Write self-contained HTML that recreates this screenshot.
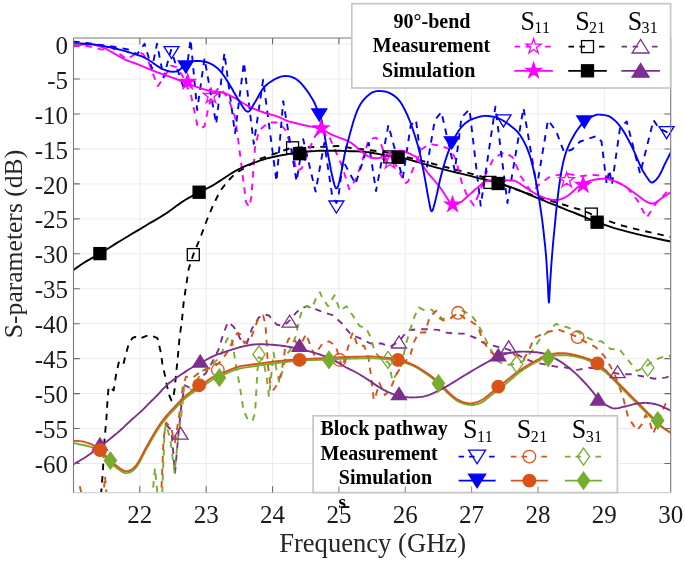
<!DOCTYPE html>
<html><head><meta charset="utf-8"><style>
html,body{margin:0;padding:0;background:#fff;}
svg{display:block;will-change:transform;}
.tl{font-family:"Liberation Serif",serif;font-size:25px;fill:#1a1a1a;}
.al{font-family:"Liberation Serif",serif;font-size:25px;fill:#262626;}
.lb{font-family:"Liberation Serif",serif;font-size:20px;font-weight:bold;fill:#000;}
.ls{font-family:"Liberation Serif",serif;font-size:28px;fill:#000;}
.lsub{font-family:"Liberation Serif",serif;font-size:16px;letter-spacing:0.4px;fill:#000;}
.bs{font-family:"Liberation Serif",serif;font-size:19px;font-weight:bold;fill:#000;}
</style></head><body>
<svg width="685" height="561" viewBox="0 0 685 561">
<defs><clipPath id="clip"><rect x="73.5" y="38.0" width="597.2" height="454.6"/></clipPath></defs>
<rect width="685" height="561" fill="#fff"/>
<path d="M139.85 38.0V492.6 M206.20 38.0V492.6 M272.55 38.0V492.6 M338.90 38.0V492.6 M405.25 38.0V492.6 M471.60 38.0V492.6 M537.95 38.0V492.6 M604.30 38.0V492.6 M73.5 44.10H670.7 M73.5 79.05H670.7 M73.5 114.00H670.7 M73.5 148.95H670.7 M73.5 183.90H670.7 M73.5 218.85H670.7 M73.5 253.80H670.7 M73.5 288.75H670.7 M73.5 323.70H670.7 M73.5 358.65H670.7 M73.5 393.60H670.7 M73.5 428.55H670.7 M73.5 463.50H670.7" stroke="#ebebeb" stroke-width="1" fill="none"/>
<g clip-path="url(#clip)">
<path d="M77.0 500.0 L80.0 487.0 L83.0 500.0" stroke="#d95319" stroke-width="1.9" fill="none" stroke-linejoin="round" stroke-dasharray="6.5,6"/>
<path d="M103.0 500.0 L105.0 476.0 L107.0 500.0" stroke="#d95319" stroke-width="1.9" fill="none" stroke-linejoin="round" stroke-dasharray="6.5,6"/>
<path d="M166.0 424.7 L171.4 430.0 L174.0 462.0 L175.0 472.9 L178.3 435.7 L181.6 402.8 L184.9 385.3 L189.3 387.5 L193.7 383.1 L205.6 373.4 L212.0 362.7 L218.4 349.9 L223.7 332.8 L228.0 322.1 L233.3 326.4 L237.6 332.8 L240.0 338.7 L246.9 343.5 L251.6 329.4 L258.6 317.8 L263.2 314.3 L269.0 315.5 L272.5 320.1 L277.1 324.8 L284.1 325.9 L289.9 320.1 L295.7 313.2 L300.3 308.6 L307.2 306.2 L314.2 308.6 L320.0 310.9 L333.4 315.5 L342.2 323.8 L351.0 334.7 L361.8 339.1 L370.5 343.5 L381.5 343.5 L390.2 346.8 L399.0 341.3 L407.7 330.4 L416.5 329.3 L427.4 329.3 L438.4 329.9 L445.0 332.5 L455.9 333.6 L464.7 333.6 L475.6 338.0 L484.4 343.5 L493.1 345.7 L503.0 347.9 L512.0 351.0 L523.0 357.9 L534.0 362.3 L544.9 364.4 L555.8 366.6 L566.8 367.7 L577.7 369.9 L588.7 367.7 L599.6 368.8 L610.6 372.1 L621.5 374.3 L632.5 374.3 L643.4 376.5 L654.4 378.7 L665.3 377.6 L673.0 375.4" stroke="#7e2f8e" stroke-width="1.9" fill="none" stroke-linejoin="round" stroke-dasharray="6.5,6"/>
<path d="M152.0 500.0 L155.0 468.0 L158.0 500.0 L162.0 500.0 L164.5 432.0 L166.0 424.0 L170.2 439.3 L174.6 472.6 L178.1 437.5 L182.0 409.7 L184.2 386.2 L192.7 390.5 L201.3 371.3 L209.8 367.0 L220.5 356.3 L226.1 341.3 L229.3 336.0 L232.3 341.4 L235.5 362.7 L240.0 387.4 L243.5 410.6 L248.1 420.0 L252.5 421.0 L255.1 412.9 L257.4 371.2 L258.6 357.2 L263.2 359.6 L266.7 378.1 L269.0 396.7 L273.6 352.6 L275.9 366.5 L279.4 382.8 L282.9 368.8 L286.4 354.9 L289.9 350.3 L295.7 336.4 L299.1 320.1 L302.6 308.6 L307.2 306.2 L311.9 308.6 L316.5 297.0 L320.0 292.3 L322.0 297.0 L328.0 306.3 L334.5 295.3 L340.0 310.7 L346.6 306.3 L355.3 319.4 L359.6 326.0 L366.1 328.2 L370.5 336.9 L374.9 352.3 L381.5 358.8 L389.1 363.2 L392.4 380.7 L396.0 375.0 L401.2 365.4 L405.6 345.7 L409.9 330.4 L414.3 317.2 L418.7 307.4 L425.3 310.7 L431.8 309.6 L440.6 319.4 L451.5 317.2 L462.5 310.7 L471.2 315.0 L477.8 323.8 L484.4 336.9 L491.0 350.1 L497.5 361.0 L505.0 365.0 L516.7 364.1 L523.0 361.2 L531.8 351.3 L540.5 338.2 L549.3 330.5 L555.8 323.9 L566.8 327.2 L575.6 330.5 L584.3 336.0 L593.1 340.4 L601.8 341.5 L610.6 349.1 L619.3 349.1 L628.1 360.1 L636.9 371.0 L645.6 366.6 L654.4 360.1 L663.1 356.8 L673.0 355.7" stroke="#77ac30" stroke-width="1.9" fill="none" stroke-linejoin="round" stroke-dasharray="6.5,6"/>
<path d="M161.0 500.0 L163.5 440.0 L165.9 422.6 L171.1 427.0 L173.7 439.3 L175.0 442.3 L179.4 413.8 L182.7 387.5 L186.0 376.6 L192.7 377.7 L200.0 372.0 L210.0 368.0 L214.1 367.0 L220.0 362.0 L229.1 349.9 L233.3 339.2 L237.6 332.8 L240.0 334.1 L244.6 343.3 L251.6 336.4 L258.6 317.8 L263.2 315.5 L265.5 324.8 L266.7 343.3 L267.8 364.2 L270.1 382.8 L273.6 389.7 L278.3 382.8 L281.7 371.2 L285.2 348.0 L288.7 338.7 L293.3 337.5 L298.0 345.7 L302.0 342.0 L306.1 334.1 L309.6 343.3 L314.2 354.9 L318.0 350.0 L322.5 343.5 L329.0 341.3 L335.6 345.7 L342.2 367.6 L346.6 352.3 L351.0 336.9 L353.0 332.5 L357.5 345.7 L364.0 345.7 L368.3 356.6 L370.5 372.0 L373.8 400.0 L376.0 395.0 L379.3 382.9 L385.0 395.0 L390.2 389.5 L396.0 375.0 L403.4 363.2 L409.9 356.6 L414.3 341.3 L418.7 332.5 L425.3 332.5 L429.6 317.2 L436.2 310.7 L442.8 320.5 L449.3 319.4 L458.1 312.8 L464.7 318.3 L471.2 321.6 L477.8 326.0 L482.2 339.1 L488.8 350.1 L495.3 355.5 L503.0 354.4 L510.0 352.0 L523.0 360.1 L529.6 349.1 L534.0 338.2 L540.5 334.9 L549.3 331.6 L558.0 329.4 L566.8 332.7 L577.7 337.1 L586.5 342.6 L595.3 346.9 L604.0 355.7 L610.6 366.6 L615.0 375.4 L619.3 386.3 L623.7 399.7 L628.1 417.2 L636.9 430.4 L642.3 423.8 L645.6 415.0 L649.0 420.0 L653.3 433.6 L658.8 419.4 L665.3 404.1 L673.0 399.7" stroke="#d95319" stroke-width="1.9" fill="none" stroke-linejoin="round" stroke-dasharray="6.5,6"/>
<path d="M101.0 495.0 L102.8 472.6 L104.5 440.0 L106.3 420.0 L107.8 396.0 L108.7 386.7 L113.7 390.4 L116.0 375.0 L119.0 361.5 L121.5 362.5 L123.4 364.3 L125.2 356.8 L128.6 344.3 L132.4 338.1 L135.0 336.9 L138.7 339.0 L147.4 335.7 L150.0 335.0 L157.5 338.2 L160.7 352.1 L162.4 363.7 L165.0 375.6 L167.5 388.0 L169.5 396.0 L171.5 400.5 L173.2 398.0 L174.5 390.0 L176.3 372.0 L178.0 355.0 L179.5 338.0 L182.0 320.0 L183.6 302.8 L188.6 269.3 L193.3 254.6 L200.3 237.7 L207.3 219.0 L213.2 205.0 L220.2 191.0 L227.2 181.7 L235.3 173.5 L261.0 158.4 L275.0 153.7 L291.4 147.8 L310.1 147.1 L326.4 146.7 L338.1 146.0 L349.8 147.8 L363.8 149.5 L382.5 151.8 L393.0 153.7 L416.4 159.5 L439.7 165.5 L463.1 171.5 L486.4 178.0 L513.0 188.4 L536.4 196.5 L559.7 203.5 L583.1 210.5 L591.3 214.1 L618.1 224.6 L641.5 230.4 L673.0 237.4" stroke="#000000" stroke-width="1.9" fill="none" stroke-linejoin="round" stroke-dasharray="6.5,6"/>
<path d="M73.0 46.0 L87.6 46.0 L102.2 49.7 L111.0 46.8 L119.7 54.1 L127.0 59.2 L132.9 55.5 L138.7 51.9 L143.1 54.1 L148.9 62.8 L153.3 74.5 L157.7 86.2 L165.0 76.0 L170.9 65.7 L176.7 67.2 L182.6 76.0 L191.3 96.4 L195.0 113.9 L197.5 126.0 L200.5 128.5 L204.5 126.3 L208.1 108.8 L211.8 96.4 L217.6 89.1 L220.3 87.8 L228.4 98.5 L235.0 117.2 L239.1 146.6 L243.1 178.7 L246.0 202.0 L249.2 206.9 L251.4 196.7 L255.1 146.6 L259.1 130.6 L268.5 122.5 L279.2 122.5 L285.9 130.6 L293.0 153.8 L296.6 171.3 L301.8 168.4 L307.6 153.8 L313.4 139.2 L320.0 128.0 L329.6 137.6 L336.7 153.7 L342.1 166.1 L349.2 189.3 L356.3 178.6 L361.7 162.6 L368.8 139.4 L376.0 137.6 L381.3 144.7 L386.6 160.8 L393.8 160.8 L399.1 171.5 L405.0 183.5 L408.0 181.6 L413.4 168.2 L421.4 149.5 L429.4 144.1 L440.1 145.5 L450.8 149.5 L456.1 160.2 L461.5 181.6 L466.8 195.0 L472.2 203.0 L474.0 205.6 L480.7 189.6 L486.0 173.6 L494.1 157.5 L504.8 152.2 L512.8 157.5 L520.8 176.2 L531.5 192.3 L539.5 184.3 L550.7 176.2 L566.7 173.6 L580.1 176.2 L593.5 174.9 L606.8 176.2 L613.4 180.2 L626.7 186.9 L637.4 200.3 L646.8 217.7 L656.1 203.0 L664.2 195.0 L670.9 186.9" stroke="#ff00ff" stroke-width="1.9" fill="none" stroke-linejoin="round" stroke-dasharray="6.5,6"/>
<path d="M73.0 41.8 L79.1 41.9 L88.3 43.3 L102.6 45.3 L113.9 46.8 L128.2 49.5 L134.3 52.8 L137.2 54.1 L144.6 43.8 L151.9 68.7 L157.0 43.8 L163.6 77.4 L171.0 50.0 L184.0 89.1 L190.6 39.5 L197.2 110.0 L204.5 58.4 L216.2 124.0 L224.4 53.0 L235.0 133.2 L243.9 62.4 L253.8 143.9 L263.1 79.8 L276.5 181.4 L283.2 101.1 L296.6 181.4 L303.2 139.2 L315.6 191.6 L324.3 143.0 L332.3 196.4 L336.4 203.0 L338.5 196.4 L343.0 160.8 L355.5 184.0 L368.8 143.0 L376.0 191.1 L388.4 125.1 L402.7 178.6 L410.7 125.4 L416.0 120.1 L421.4 162.9 L426.7 168.2 L434.8 120.1 L441.4 112.1 L454.8 170.9 L461.5 117.4 L469.5 109.4 L480.7 205.6 L495.4 106.7 L507.4 203.0 L523.5 108.0 L536.8 186.9 L548.0 120.1 L556.0 130.8 L564.1 152.2 L572.1 149.5 L580.1 141.5 L596.1 136.1 L601.5 141.5 L606.7 184.3 L609.3 170.0 L612.0 184.3 L620.0 128.1 L626.7 121.4 L640.1 173.6 L653.5 120.1 L658.8 128.1 L666.8 132.1 L670.9 125.4" stroke="#0000ff" stroke-width="1.9" fill="none" stroke-linejoin="round" stroke-dasharray="6.5,6"/>
<path d="M73.0 442.9 L75.5 443.4 L79.1 444.2 L83.3 445.0 L87.6 446.0 L91.6 447.2 L94.9 448.4 L97.4 449.8 L99.3 451.3 L101.0 453.0 L102.6 454.8 L104.1 456.5 L105.8 458.2 L107.6 459.9 L109.5 461.7 L111.4 463.4 L113.2 465.2 L115.0 466.7 L116.8 468.1 L118.5 469.3 L120.2 470.5 L121.8 471.6 L123.4 472.4 L125.0 473.0 L126.6 473.1 L128.2 472.9 L129.9 472.4 L131.5 471.6 L133.1 470.5 L134.8 468.9 L136.5 467.0 L138.2 464.5 L140.0 461.5 L141.7 458.1 L143.6 454.5 L145.4 450.9 L147.4 447.3 L149.5 443.7 L151.6 439.9 L153.9 436.1 L156.1 432.3 L158.4 428.7 L160.6 425.4 L162.8 422.4 L165.0 419.7 L167.2 417.1 L169.3 414.7 L171.5 412.4 L173.7 410.0 L175.9 407.6 L178.1 405.3 L180.3 403.0 L182.5 400.9 L184.7 398.8 L186.9 396.9 L189.1 395.2 L191.3 393.6 L193.5 392.2 L195.6 390.9 L197.8 389.5 L200.0 388.1 L202.2 386.6 L204.3 385.1 L206.5 383.6 L208.7 382.2 L210.8 380.8 L213.0 379.5 L215.2 378.3 L217.4 377.3 L219.5 376.3 L221.7 375.3 L223.9 374.4 L226.1 373.5 L228.2 372.6 L230.3 371.7 L232.4 370.9 L234.6 370.1 L236.8 369.4 L239.3 368.7 L241.9 368.1 L244.7 367.6 L247.5 367.1 L250.5 366.7 L253.6 366.3 L256.8 365.8 L260.2 365.3 L263.8 364.8 L267.5 364.3 L271.2 363.7 L275.0 363.3 L278.7 362.8 L282.3 362.4 L286.0 362.0 L289.6 361.6 L293.3 361.2 L296.9 360.9 L300.6 360.6 L304.2 360.4 L307.9 360.2 L311.6 360.1 L315.2 360.0 L318.9 359.8 L322.5 359.7 L326.2 359.5 L329.9 359.4 L333.7 359.2 L337.3 359.1 L340.9 358.9 L344.4 358.8 L347.8 358.7 L351.1 358.6 L354.3 358.5 L357.4 358.5 L360.3 358.4 L363.0 358.4 L365.3 358.4 L367.1 358.3 L368.7 358.2 L370.4 358.2 L372.4 358.3 L374.9 358.4 L378.0 358.6 L381.6 358.8 L385.5 359.1 L389.5 359.5 L393.3 360.0 L396.8 360.6 L400.0 361.3 L403.0 362.1 L405.9 363.1 L408.8 364.1 L411.5 365.2 L414.3 366.5 L417.1 368.0 L419.9 369.6 L422.6 371.4 L425.3 373.2 L427.8 375.0 L430.0 376.6 L432.0 378.1 L433.6 379.5 L435.2 380.8 L436.6 382.2 L438.1 383.6 L439.6 385.0 L441.2 386.6 L442.8 388.2 L444.5 389.9 L446.1 391.5 L447.7 393.1 L449.3 394.6 L450.9 396.0 L452.4 397.3 L454.0 398.6 L455.5 399.8 L457.2 400.9 L458.9 401.8 L460.8 402.6 L462.8 403.4 L464.9 404.0 L467.0 404.5 L469.1 404.8 L471.0 405.0 L472.8 405.0 L474.6 404.8 L476.4 404.4 L478.1 404.0 L479.7 403.3 L481.4 402.6 L483.0 401.7 L484.7 400.6 L486.2 399.3 L487.8 398.0 L489.4 396.7 L491.0 395.4 L492.6 394.2 L494.2 393.0 L495.8 391.9 L497.5 390.7 L499.1 389.5 L500.7 388.2 L502.3 386.9 L503.9 385.6 L505.5 384.2 L507.1 382.8 L508.7 381.5 L510.3 380.1 L511.9 378.7 L513.5 377.4 L515.1 376.0 L516.7 374.6 L518.3 373.3 L519.9 372.1 L521.5 370.9 L523.1 369.8 L524.7 368.8 L526.3 367.7 L527.9 366.7 L529.6 365.7 L531.4 364.7 L533.2 363.7 L535.1 362.7 L536.9 361.8 L538.6 360.9 L540.0 360.1 L540.9 359.4 L541.4 358.8 L541.7 358.2 L542.2 357.7 L543.2 357.2 L544.9 356.8 L547.6 356.4 L550.9 355.9 L554.8 355.5 L558.9 355.2 L563.0 355.1 L566.8 355.3 L570.5 355.7 L574.3 356.3 L578.0 357.0 L581.7 358.0 L585.3 359.1 L588.7 360.5 L591.9 362.1 L594.9 363.9 L597.7 365.9 L600.5 368.1 L603.3 370.4 L606.2 372.8 L609.1 375.4 L612.0 378.2 L615.0 381.2 L617.9 384.3 L620.8 387.3 L623.7 390.3 L626.7 393.3 L629.9 396.5 L633.0 399.6 L636.0 402.6 L638.8 405.4 L641.2 407.8 L643.1 409.7 L644.7 411.3 L646.0 412.6 L647.2 413.8 L648.5 415.1 L650.0 416.5 L651.7 418.1 L653.5 419.8 L655.3 421.6 L657.2 423.3 L659.1 425.0 L661.0 426.5 L663.1 427.9 L665.4 429.3 L667.7 430.7 L669.9 431.9 L671.7 432.9 L673.0 433.6" stroke="#77ac30" stroke-width="1.9" fill="none" stroke-linejoin="round"/>
<path d="M73.0 440.7 L74.2 440.8 L75.9 440.9 L77.8 441.0 L79.9 441.1 L82.0 441.4 L84.0 441.8 L85.8 442.3 L87.6 442.8 L89.5 443.5 L91.3 444.2 L93.1 445.1 L94.9 446.2 L96.7 447.5 L98.5 449.1 L100.3 450.8 L102.2 452.5 L104.0 454.3 L105.8 456.0 L107.6 457.7 L109.5 459.5 L111.4 461.2 L113.2 462.9 L115.0 464.5 L116.8 465.9 L118.5 467.2 L120.2 468.5 L121.8 469.6 L123.4 470.5 L125.0 471.1 L126.6 471.3 L128.2 471.1 L129.9 470.5 L131.5 469.6 L133.1 468.4 L134.8 466.8 L136.5 464.8 L138.2 462.3 L140.0 459.3 L141.7 455.9 L143.6 452.3 L145.4 448.7 L147.4 445.1 L149.5 441.5 L151.6 437.7 L153.9 433.9 L156.1 430.1 L158.4 426.5 L160.6 423.2 L162.8 420.2 L165.0 417.5 L167.2 415.0 L169.3 412.5 L171.5 410.2 L173.7 407.8 L175.9 405.4 L178.1 403.1 L180.3 400.8 L182.5 398.7 L184.7 396.6 L186.9 394.7 L189.1 393.0 L191.3 391.5 L193.5 390.1 L195.6 388.8 L197.8 387.4 L200.0 386.0 L202.2 384.5 L204.3 382.9 L206.5 381.3 L208.7 379.8 L210.8 378.3 L213.0 377.0 L215.2 375.9 L217.4 374.9 L219.5 374.0 L221.7 373.2 L223.9 372.3 L226.1 371.5 L228.2 370.6 L230.3 369.7 L232.4 368.8 L234.6 368.0 L236.8 367.2 L239.3 366.5 L241.9 365.9 L244.7 365.5 L247.5 365.1 L250.5 364.7 L253.6 364.3 L256.8 363.9 L260.2 363.4 L263.8 362.9 L267.5 362.4 L271.2 361.9 L275.0 361.4 L278.7 361.0 L282.3 360.6 L286.0 360.3 L289.6 360.0 L293.3 359.8 L296.9 359.5 L300.6 359.3 L304.2 359.1 L307.9 358.9 L311.6 358.7 L315.2 358.5 L318.9 358.4 L322.5 358.2 L326.2 358.0 L329.9 357.8 L333.7 357.6 L337.3 357.4 L340.9 357.2 L344.4 357.1 L347.8 357.0 L351.1 356.9 L354.3 356.8 L357.4 356.7 L360.3 356.6 L363.0 356.6 L365.3 356.5 L367.1 356.5 L368.7 356.4 L370.4 356.4 L372.4 356.4 L374.9 356.6 L378.0 356.9 L381.6 357.2 L385.5 357.6 L389.5 358.0 L393.3 358.6 L396.8 359.3 L400.0 360.1 L403.0 360.9 L405.9 361.9 L408.8 363.0 L411.5 364.1 L414.3 365.4 L417.1 366.9 L419.9 368.5 L422.6 370.2 L425.3 372.0 L427.8 373.7 L430.0 375.3 L432.0 376.7 L433.6 378.1 L435.2 379.4 L436.6 380.7 L438.1 382.0 L439.6 383.4 L441.2 384.9 L442.8 386.6 L444.5 388.3 L446.1 389.9 L447.7 391.5 L449.3 393.0 L450.9 394.4 L452.4 395.7 L454.0 397.0 L455.6 398.2 L457.2 399.3 L458.9 400.2 L460.7 401.0 L462.5 401.8 L464.4 402.4 L466.3 403.0 L468.2 403.3 L470.1 403.4 L472.0 403.3 L473.9 403.0 L475.9 402.4 L477.8 401.8 L479.6 401.0 L481.4 400.2 L483.1 399.2 L484.8 398.1 L486.4 396.8 L488.0 395.5 L489.5 394.2 L491.0 393.0 L492.4 391.9 L493.8 390.8 L495.1 389.8 L496.4 388.7 L497.7 387.7 L499.0 386.6 L500.3 385.5 L501.6 384.5 L502.9 383.5 L504.2 382.4 L505.6 381.3 L507.1 380.1 L508.8 378.7 L510.6 377.3 L512.5 375.7 L514.4 374.2 L516.4 372.7 L518.3 371.3 L520.2 370.0 L522.1 368.7 L524.0 367.5 L525.9 366.3 L527.8 365.2 L529.6 364.1 L531.4 363.0 L533.3 362.0 L535.2 361.0 L537.0 360.1 L538.6 359.3 L540.0 358.5 L541.1 357.9 L541.8 357.3 L542.4 356.9 L543.0 356.5 L543.8 356.1 L544.9 355.7 L546.4 355.3 L548.1 354.8 L550.0 354.4 L551.9 354.0 L553.9 353.7 L555.8 353.5 L557.6 353.3 L559.5 353.3 L561.3 353.2 L563.1 353.3 L565.0 353.3 L566.8 353.5 L568.6 353.7 L570.4 354.0 L572.2 354.4 L574.1 354.8 L575.9 355.2 L577.7 355.7 L579.6 356.2 L581.4 356.7 L583.3 357.2 L585.2 357.8 L587.0 358.4 L588.7 359.0 L590.3 359.6 L591.8 360.3 L593.2 360.9 L594.6 361.7 L596.0 362.5 L597.4 363.4 L598.9 364.5 L600.3 365.7 L601.8 366.9 L603.3 368.3 L604.7 369.6 L606.2 371.0 L607.7 372.4 L609.1 373.8 L610.6 375.3 L612.1 376.8 L613.5 378.3 L615.0 379.8 L616.5 381.3 L617.9 382.7 L619.4 384.1 L620.8 385.6 L622.2 387.0 L623.7 388.5 L625.2 390.0 L626.6 391.4 L628.1 392.9 L629.6 394.4 L631.0 395.8 L632.5 397.3 L634.0 398.8 L635.4 400.2 L636.9 401.6 L638.3 403.1 L639.7 404.5 L641.2 406.0 L642.6 407.5 L644.0 408.9 L645.5 410.4 L646.9 411.8 L648.4 413.4 L650.0 415.0 L651.7 416.7 L653.5 418.6 L655.3 420.5 L657.2 422.4 L659.1 424.3 L661.0 426.0 L663.1 427.7 L665.4 429.4 L667.7 431.0 L669.9 432.5 L671.7 433.8 L673.0 434.7" stroke="#d95319" stroke-width="1.9" fill="none" stroke-linejoin="round"/>
<path d="M73.0 464.6 L74.4 463.8 L76.4 462.6 L78.7 461.3 L81.2 459.8 L83.8 458.3 L86.1 456.8 L88.3 455.3 L90.5 453.8 L92.7 452.1 L94.9 450.5 L97.1 448.9 L99.3 447.2 L101.5 445.5 L103.8 443.7 L106.1 442.0 L108.4 440.2 L110.5 438.6 L112.4 437.0 L114.1 435.6 L115.7 434.3 L117.1 433.1 L118.4 432.0 L119.8 430.8 L121.2 429.5 L122.7 428.2 L124.1 426.8 L125.5 425.4 L127.0 424.0 L128.5 422.6 L130.0 421.2 L131.6 419.8 L133.2 418.3 L134.9 416.9 L136.6 415.4 L138.3 413.9 L140.0 412.4 L141.7 410.8 L143.4 409.1 L145.2 407.3 L146.9 405.6 L148.5 403.9 L150.0 402.4 L151.4 401.0 L152.7 399.8 L153.9 398.6 L155.1 397.4 L156.3 396.2 L157.5 395.0 L158.8 393.7 L160.0 392.3 L161.3 390.8 L162.5 389.4 L163.8 388.1 L165.0 386.8 L166.2 385.7 L167.4 384.6 L168.5 383.6 L169.7 382.6 L171.0 381.7 L172.4 380.6 L173.9 379.5 L175.5 378.3 L177.2 377.2 L179.0 376.0 L180.7 374.8 L182.4 373.7 L184.1 372.6 L185.8 371.4 L187.5 370.3 L189.1 369.2 L190.8 368.2 L192.4 367.2 L193.9 366.4 L195.3 365.6 L196.7 365.0 L198.1 364.3 L199.6 363.6 L201.3 362.7 L203.2 361.7 L205.1 360.5 L207.2 359.3 L209.4 358.1 L211.7 356.9 L214.1 355.8 L216.8 354.7 L219.7 353.7 L222.8 352.6 L225.8 351.6 L228.7 350.7 L231.2 349.9 L233.3 349.2 L235.1 348.6 L236.6 348.1 L238.2 347.7 L239.7 347.2 L241.5 346.8 L243.4 346.3 L245.4 345.9 L247.5 345.5 L249.6 345.1 L251.7 344.7 L253.9 344.5 L256.1 344.4 L258.4 344.3 L260.8 344.3 L263.1 344.3 L265.5 344.4 L267.8 344.5 L270.1 344.6 L272.4 344.8 L274.7 345.0 L277.1 345.2 L279.4 345.4 L281.7 345.7 L284.1 346.0 L286.5 346.4 L288.8 346.7 L291.2 347.2 L293.5 347.6 L295.7 348.0 L297.7 348.4 L299.7 348.9 L301.5 349.3 L303.4 349.8 L305.2 350.3 L307.2 350.8 L309.3 351.3 L311.3 351.9 L313.5 352.5 L315.6 353.1 L317.8 353.8 L320.0 354.5 L322.2 355.3 L324.5 356.1 L326.8 357.0 L329.1 357.9 L331.3 358.9 L333.4 359.9 L335.4 360.9 L337.2 362.1 L339.1 363.2 L340.8 364.3 L342.6 365.4 L344.4 366.5 L346.2 367.5 L348.0 368.4 L349.9 369.3 L351.7 370.1 L353.5 371.0 L355.3 372.0 L357.1 373.0 L358.8 374.0 L360.6 375.0 L362.3 376.1 L364.2 377.3 L366.1 378.5 L368.2 379.9 L370.3 381.3 L372.6 382.9 L374.8 384.4 L377.1 385.9 L379.3 387.3 L381.5 388.6 L383.7 389.8 L385.9 390.9 L388.0 392.0 L390.2 393.0 L392.4 393.9 L394.6 394.7 L396.8 395.3 L399.0 395.9 L401.2 396.4 L403.4 396.8 L405.6 397.1 L407.8 397.3 L410.0 397.4 L412.3 397.5 L414.5 397.4 L416.6 397.3 L418.7 397.1 L420.6 396.9 L422.4 396.7 L424.2 396.4 L425.9 395.9 L427.9 395.4 L430.0 394.6 L432.4 393.6 L435.0 392.4 L437.8 391.1 L440.6 389.6 L443.4 388.1 L446.1 386.6 L448.8 385.1 L451.4 383.5 L454.1 381.9 L456.8 380.2 L459.4 378.5 L462.1 376.9 L464.8 375.3 L467.6 373.6 L470.4 371.9 L473.1 370.3 L475.7 368.8 L478.2 367.3 L480.6 365.9 L482.9 364.6 L485.1 363.4 L487.2 362.2 L489.2 361.1 L491.0 360.1 L492.6 359.2 L493.9 358.5 L495.1 357.9 L496.3 357.3 L497.5 356.7 L499.0 356.1 L500.7 355.5 L502.5 354.9 L504.5 354.3 L506.4 353.7 L508.4 353.2 L510.3 352.8 L512.2 352.5 L514.0 352.2 L515.9 352.0 L517.8 351.8 L519.6 351.7 L521.5 351.6 L523.4 351.6 L525.4 351.6 L527.4 351.7 L529.3 351.8 L531.2 351.9 L532.8 352.0 L534.2 352.1 L535.5 352.2 L536.7 352.3 L537.8 352.4 L538.9 352.6 L540.0 352.8 L541.1 353.0 L542.2 353.2 L543.3 353.4 L544.5 353.7 L545.7 354.1 L547.1 354.6 L548.7 355.3 L550.4 356.1 L552.3 357.0 L554.2 358.0 L556.1 359.0 L558.0 360.1 L559.8 361.2 L561.7 362.4 L563.5 363.6 L565.3 364.9 L567.2 366.3 L569.0 367.7 L570.8 369.2 L572.6 370.8 L574.5 372.4 L576.3 374.1 L578.1 375.8 L579.9 377.6 L581.8 379.5 L583.6 381.5 L585.5 383.5 L587.4 385.6 L589.2 387.6 L590.9 389.6 L592.5 391.6 L594.0 393.5 L595.4 395.5 L596.8 397.4 L598.2 399.1 L599.6 400.6 L601.1 401.9 L602.6 403.0 L604.1 404.0 L605.6 404.9 L607.1 405.6 L608.4 406.3 L609.6 406.9 L610.6 407.5 L611.6 407.9 L612.6 408.2 L613.7 408.4 L615.0 408.5 L616.6 408.4 L618.3 408.1 L620.2 407.7 L622.1 407.2 L624.0 406.7 L625.9 406.3 L627.7 405.9 L629.6 405.4 L631.4 404.9 L633.2 404.4 L635.1 403.9 L636.9 403.6 L638.7 403.3 L640.5 403.1 L642.3 403.0 L644.2 402.9 L646.0 402.9 L647.8 403.0 L649.6 403.2 L651.3 403.4 L653.1 403.7 L654.9 404.0 L656.8 404.6 L658.8 405.2 L661.1 406.1 L663.8 407.3 L666.6 408.6 L669.2 409.9 L671.4 410.9 L673.0 411.7" stroke="#7e2f8e" stroke-width="1.9" fill="none" stroke-linejoin="round"/>
<path d="M73.0 270.4 L74.2 269.5 L75.9 268.3 L77.9 266.9 L80.1 265.3 L82.4 263.8 L84.7 262.3 L87.0 260.9 L89.3 259.6 L91.8 258.2 L94.4 256.8 L97.1 255.3 L99.9 253.6 L102.9 251.8 L106.0 249.8 L109.3 247.7 L112.7 245.6 L116.1 243.4 L119.7 241.2 L123.4 239.0 L127.2 236.7 L131.2 234.3 L135.2 231.9 L139.2 229.6 L143.1 227.2 L147.1 224.8 L151.1 222.4 L155.2 220.1 L159.1 217.7 L162.9 215.4 L166.4 213.2 L169.5 211.1 L172.4 209.0 L175.0 207.1 L177.6 205.1 L180.2 203.3 L182.8 201.5 L185.5 199.8 L188.3 198.1 L191.1 196.6 L193.8 195.0 L196.5 193.6 L199.1 192.2 L201.5 191.0 L203.8 189.9 L205.9 188.9 L208.2 187.9 L210.5 186.7 L213.2 185.2 L216.2 183.3 L219.6 181.1 L223.1 178.8 L226.6 176.5 L230.0 174.3 L233.0 172.4 L235.6 170.9 L238.0 169.6 L240.2 168.5 L242.4 167.4 L244.6 166.4 L247.0 165.4 L249.6 164.3 L252.3 163.3 L255.1 162.3 L257.9 161.3 L260.6 160.4 L263.4 159.5 L266.1 158.7 L268.8 158.0 L271.4 157.4 L274.1 156.8 L276.8 156.2 L279.7 155.6 L282.7 155.0 L285.8 154.5 L288.9 153.9 L292.1 153.4 L295.3 152.9 L298.4 152.5 L301.5 152.1 L304.7 151.8 L307.9 151.5 L311.0 151.3 L314.1 151.1 L317.1 150.9 L320.0 150.8 L322.7 150.7 L325.4 150.7 L328.0 150.7 L330.7 150.7 L333.4 150.7 L336.2 150.7 L339.1 150.8 L342.0 150.9 L344.8 151.0 L347.4 151.1 L349.8 151.2 L351.9 151.3 L353.7 151.3 L355.4 151.3 L356.9 151.4 L358.5 151.4 L360.0 151.5 L361.5 151.6 L363.0 151.7 L364.5 151.8 L365.9 152.0 L367.4 152.1 L368.8 152.3 L370.3 152.5 L371.7 152.7 L373.1 153.0 L374.6 153.3 L376.0 153.5 L377.5 153.8 L379.0 154.1 L380.5 154.4 L382.0 154.7 L383.5 155.0 L385.0 155.3 L386.3 155.6 L387.5 155.8 L388.5 156.0 L389.5 156.2 L390.5 156.3 L391.6 156.5 L393.0 156.7 L394.7 156.9 L396.5 157.2 L398.5 157.5 L400.6 157.8 L402.7 158.1 L404.7 158.5 L406.5 158.9 L408.2 159.4 L409.8 159.9 L411.6 160.4 L413.8 161.0 L416.4 161.8 L419.6 162.7 L423.3 163.8 L427.3 164.9 L431.5 166.1 L435.7 167.3 L439.7 168.4 L443.6 169.4 L447.5 170.4 L451.4 171.4 L455.3 172.3 L459.2 173.2 L463.1 174.2 L467.1 175.2 L471.3 176.2 L475.5 177.3 L479.5 178.3 L483.2 179.2 L486.4 180.0 L488.9 180.6 L490.9 181.1 L492.5 181.5 L494.1 181.9 L495.9 182.4 L498.1 183.1 L500.8 183.9 L503.8 184.9 L507.0 185.9 L510.2 187.0 L513.6 188.2 L516.8 189.4 L520.0 190.7 L523.1 192.0 L526.3 193.4 L529.6 194.8 L532.9 196.2 L536.4 197.7 L540.1 199.2 L543.9 200.7 L547.8 202.3 L551.8 203.9 L555.8 205.4 L559.7 207.0 L563.7 208.6 L567.8 210.3 L572.0 211.9 L576.0 213.5 L579.7 215.0 L583.1 216.4 L585.9 217.6 L588.2 218.6 L590.2 219.4 L592.3 220.3 L594.5 221.2 L597.1 222.2 L600.2 223.3 L603.5 224.5 L607.0 225.7 L610.7 226.9 L614.4 228.1 L618.1 229.2 L621.8 230.2 L625.4 231.2 L629.1 232.1 L633.0 233.1 L637.1 234.1 L641.5 235.1 L646.6 236.3 L652.6 237.6 L658.7 239.0 L664.5 240.2 L669.5 241.3 L673.0 242.1" stroke="#000000" stroke-width="1.9" fill="none" stroke-linejoin="round"/>
<path d="M73.0 46.7 L73.7 46.5 L74.5 46.3 L75.6 46.0 L76.8 45.7 L77.9 45.4 L79.1 45.2 L80.2 45.0 L81.4 44.7 L82.6 44.5 L83.9 44.3 L85.1 44.2 L86.3 44.1 L87.5 44.1 L88.7 44.1 L89.8 44.2 L91.0 44.3 L92.2 44.4 L93.4 44.6 L94.6 44.9 L95.8 45.2 L97.1 45.5 L98.3 45.9 L99.5 46.3 L100.6 46.7 L101.7 47.1 L102.7 47.4 L103.7 47.8 L104.6 48.2 L105.6 48.7 L106.7 49.2 L107.8 49.8 L109.1 50.5 L110.3 51.2 L111.5 51.9 L112.8 52.6 L113.9 53.3 L115.0 53.9 L116.0 54.5 L117.0 55.1 L117.9 55.7 L118.9 56.3 L120.0 56.9 L121.1 57.5 L122.3 58.1 L123.5 58.8 L124.8 59.4 L126.0 60.0 L127.2 60.5 L128.4 61.0 L129.5 61.4 L130.6 61.7 L131.7 62.1 L132.9 62.5 L134.3 63.0 L135.8 63.6 L137.3 64.2 L139.0 64.9 L140.7 65.6 L142.6 66.4 L144.6 67.2 L146.8 68.1 L149.1 69.0 L151.6 70.0 L154.2 71.1 L156.7 72.1 L159.2 73.0 L161.7 73.9 L164.1 74.7 L166.6 75.6 L169.0 76.4 L171.5 77.3 L173.8 78.1 L176.1 79.0 L178.3 79.9 L180.5 80.8 L182.7 81.6 L184.8 82.5 L186.9 83.3 L188.9 84.1 L190.8 84.8 L192.7 85.5 L194.6 86.2 L196.6 86.9 L198.6 87.6 L200.7 88.3 L202.9 89.0 L205.2 89.6 L207.5 90.3 L209.7 90.8 L211.8 91.3 L213.8 91.6 L215.8 91.8 L217.7 91.9 L219.6 92.0 L221.5 92.3 L223.4 92.7 L225.3 93.3 L227.0 94.0 L228.8 94.8 L230.6 95.8 L232.5 96.8 L234.6 97.9 L236.8 99.2 L239.2 100.6 L241.7 102.2 L244.2 103.8 L246.7 105.3 L249.2 106.6 L251.6 107.8 L254.1 108.8 L256.5 109.8 L258.9 110.8 L261.4 111.6 L263.8 112.5 L266.3 113.3 L268.8 114.0 L271.4 114.7 L273.9 115.4 L276.2 116.1 L278.4 116.8 L280.3 117.5 L281.9 118.3 L283.4 119.0 L284.9 119.8 L286.6 120.6 L288.7 121.3 L291.2 122.0 L294.1 122.8 L297.2 123.5 L300.3 124.3 L303.4 125.0 L306.2 125.6 L308.8 126.2 L311.4 126.6 L313.9 127.1 L316.3 127.5 L318.5 128.0 L320.7 128.7 L322.6 129.5 L324.3 130.4 L325.8 131.3 L327.4 132.3 L329.2 133.4 L331.4 134.5 L334.1 135.6 L337.3 136.8 L340.6 138.1 L344.0 139.4 L347.1 140.7 L349.8 142.0 L352.0 143.4 L354.0 144.9 L355.8 146.4 L357.3 147.9 L358.7 149.2 L360.0 150.3 L361.1 151.2 L361.9 151.9 L362.6 152.4 L363.1 152.9 L363.7 153.3 L364.4 153.8 L365.1 154.3 L365.8 154.8 L366.5 155.3 L367.3 155.7 L368.0 156.1 L368.8 156.5 L369.6 156.9 L370.5 157.2 L371.3 157.5 L372.2 157.8 L373.1 158.0 L374.0 158.2 L374.9 158.3 L375.8 158.3 L376.7 158.2 L377.6 158.1 L378.5 158.0 L379.3 157.8 L380.1 157.6 L380.7 157.3 L381.4 157.1 L382.0 156.7 L382.8 156.4 L383.6 156.0 L384.5 155.6 L385.6 155.0 L386.6 154.5 L387.8 154.0 L388.9 153.4 L390.0 153.0 L391.1 152.6 L392.3 152.3 L393.5 151.9 L394.6 151.7 L395.8 151.4 L396.8 151.2 L397.8 151.0 L398.6 150.9 L399.5 150.8 L400.3 150.7 L401.1 150.7 L402.0 150.8 L402.9 151.0 L403.8 151.2 L404.7 151.5 L405.5 151.8 L406.4 152.1 L407.3 152.5 L408.2 152.9 L409.0 153.3 L409.9 153.7 L410.8 154.1 L411.6 154.6 L412.5 155.1 L413.3 155.5 L414.1 155.9 L414.8 156.2 L415.7 156.7 L416.6 157.6 L417.8 158.8 L419.2 160.6 L420.8 162.8 L422.5 165.3 L424.3 167.9 L426.2 170.5 L428.0 173.0 L429.9 175.3 L431.9 177.7 L433.9 180.0 L435.9 182.3 L437.9 184.7 L439.7 187.0 L441.5 189.5 L443.2 192.1 L444.9 194.7 L446.4 197.1 L447.8 199.3 L449.0 201.0 L449.9 202.3 L450.5 203.2 L450.9 203.8 L451.3 204.2 L451.8 204.5 L452.6 204.6 L453.7 204.6 L454.9 204.5 L456.3 204.1 L457.7 203.6 L459.2 203.0 L460.7 202.2 L462.2 201.2 L463.7 199.9 L465.3 198.5 L466.9 197.0 L468.5 195.5 L470.1 194.1 L471.7 192.7 L473.3 191.2 L474.9 189.8 L476.5 188.4 L478.0 187.1 L479.4 185.9 L480.6 184.9 L481.7 183.9 L482.7 183.1 L483.8 182.4 L485.0 181.7 L486.4 181.2 L488.1 180.8 L490.0 180.5 L492.0 180.3 L494.0 180.1 L496.1 180.1 L498.1 180.0 L500.1 180.0 L502.2 180.0 L504.3 180.1 L506.3 180.2 L508.2 180.4 L509.8 180.5 L511.1 180.6 L512.1 180.5 L512.9 180.5 L513.8 180.6 L514.8 180.9 L516.0 181.4 L517.5 182.2 L519.2 183.2 L521.0 184.4 L522.9 185.8 L524.9 187.1 L527.0 188.4 L529.2 189.7 L531.4 191.2 L533.8 192.7 L536.2 194.1 L538.6 195.4 L541.0 196.5 L543.4 197.4 L545.8 198.3 L548.1 199.0 L550.5 199.5 L552.8 199.9 L555.0 200.0 L557.1 199.9 L559.0 199.7 L560.9 199.2 L562.7 198.5 L564.6 197.6 L566.7 196.5 L568.9 195.0 L571.3 193.0 L573.7 190.8 L576.1 188.6 L578.5 186.5 L580.7 184.9 L582.8 183.7 L584.7 182.7 L586.6 181.9 L588.4 181.3 L590.3 180.7 L592.4 180.2 L594.6 179.7 L596.9 179.3 L599.2 179.0 L601.6 178.8 L604.0 178.8 L606.4 179.0 L608.7 179.4 L611.1 180.0 L613.4 180.7 L615.8 181.6 L618.2 182.6 L620.5 183.7 L622.8 185.0 L625.1 186.4 L627.4 188.0 L629.7 189.6 L632.0 191.3 L634.5 193.0 L637.1 194.9 L639.9 197.0 L642.8 199.2 L645.6 201.2 L648.3 202.7 L650.8 203.5 L653.0 203.5 L655.1 202.8 L657.0 201.7 L658.9 200.3 L660.7 198.9 L662.5 197.7 L664.4 196.5 L666.5 195.2 L668.5 193.8 L670.3 192.6 L671.9 191.5 L673.0 190.7" stroke="#ff00ff" stroke-width="1.9" fill="none" stroke-linejoin="round"/>
<path d="M73.0 43.1 L74.1 43.2 L75.8 43.2 L77.6 43.3 L79.6 43.4 L81.6 43.5 L83.2 43.6 L84.6 43.7 L85.8 43.7 L86.9 43.8 L88.0 43.9 L89.2 44.0 L90.4 44.1 L91.7 44.2 L93.0 44.4 L94.4 44.6 L95.8 44.8 L97.1 45.0 L98.5 45.2 L99.8 45.4 L101.2 45.7 L102.5 45.9 L103.9 46.1 L105.3 46.4 L106.7 46.7 L108.2 47.0 L109.7 47.3 L111.3 47.7 L112.9 48.0 L114.4 48.4 L115.9 48.7 L117.3 49.0 L118.7 49.4 L120.1 49.7 L121.4 50.1 L122.7 50.4 L124.1 50.8 L125.4 51.2 L126.7 51.6 L128.0 52.0 L129.4 52.4 L130.8 52.8 L132.3 53.3 L134.0 53.8 L135.8 54.4 L137.7 55.0 L139.5 55.6 L141.3 56.2 L143.0 56.9 L144.5 57.6 L145.9 58.3 L147.2 59.1 L148.4 59.8 L149.7 60.7 L151.0 61.5 L152.4 62.4 L153.8 63.4 L155.2 64.5 L156.6 65.5 L158.0 66.4 L159.2 67.2 L160.3 67.8 L161.3 68.4 L162.2 68.9 L163.1 69.3 L164.1 69.6 L165.0 70.0 L166.0 70.4 L166.9 70.7 L167.9 71.0 L168.8 71.3 L169.8 71.5 L170.9 71.6 L172.1 71.7 L173.3 71.7 L174.6 71.6 L175.8 71.5 L177.1 71.2 L178.2 70.8 L179.2 70.2 L180.1 69.4 L181.0 68.5 L181.9 67.5 L182.9 66.6 L184.0 65.7 L185.3 64.9 L186.7 64.0 L188.1 63.2 L189.7 62.5 L191.2 61.9 L192.8 61.4 L194.4 61.1 L196.1 61.0 L197.9 60.9 L199.7 61.0 L201.4 61.2 L203.0 61.4 L204.6 61.7 L206.1 62.0 L207.5 62.4 L209.0 63.0 L210.4 63.6 L211.8 64.3 L213.2 65.1 L214.6 66.0 L215.9 67.0 L217.2 68.1 L218.6 69.3 L220.0 70.8 L221.4 72.5 L222.8 74.3 L224.3 76.4 L225.7 78.5 L227.2 80.9 L228.8 83.3 L230.4 86.0 L232.2 89.0 L233.9 92.2 L235.7 95.3 L237.4 98.2 L239.0 100.8 L240.6 103.2 L242.1 105.7 L243.5 107.9 L245.0 109.8 L246.3 111.1 L247.7 111.7 L249.0 111.4 L250.2 110.2 L251.3 108.5 L252.5 106.5 L253.7 104.3 L255.0 102.2 L256.3 100.0 L257.7 97.5 L259.1 94.8 L260.6 92.2 L262.1 89.8 L263.8 87.6 L265.6 85.7 L267.5 84.0 L269.6 82.5 L271.6 81.2 L273.6 79.9 L275.5 78.9 L277.3 78.0 L279.0 77.3 L280.7 76.7 L282.4 76.3 L284.0 76.1 L285.7 76.0 L287.4 76.1 L289.2 76.3 L290.9 76.7 L292.6 77.3 L294.3 78.0 L295.9 78.9 L297.4 80.0 L298.9 81.2 L300.4 82.6 L301.8 84.2 L303.3 85.8 L304.7 87.6 L306.2 89.6 L307.8 91.8 L309.3 94.1 L310.8 96.5 L312.2 98.7 L313.4 100.8 L314.4 102.7 L315.2 104.5 L315.9 106.2 L316.5 107.8 L317.2 109.4 L317.8 111.0 L318.5 112.5 L319.1 113.9 L319.8 115.3 L320.4 116.7 L320.9 118.2 L321.5 120.0 L322.0 122.0 L322.5 124.3 L323.0 126.6 L323.4 129.1 L323.8 131.5 L324.3 134.0 L324.8 136.5 L325.2 139.1 L325.7 141.7 L326.1 144.3 L326.6 146.8 L327.0 149.2 L327.4 151.5 L327.9 153.7 L328.3 155.8 L328.7 157.9 L329.1 160.0 L329.5 162.0 L329.9 164.0 L330.2 166.0 L330.6 168.0 L330.9 169.9 L331.3 171.8 L331.7 173.7 L332.1 175.6 L332.6 177.6 L333.0 179.6 L333.5 181.4 L333.9 183.1 L334.3 184.5 L334.7 185.6 L335.0 186.6 L335.4 187.4 L335.7 187.9 L336.0 188.3 L336.4 188.4 L336.8 188.3 L337.1 187.9 L337.5 187.4 L337.8 186.6 L338.2 185.6 L338.6 184.5 L339.0 183.1 L339.4 181.5 L339.8 179.7 L340.2 177.7 L340.6 175.7 L341.0 173.7 L341.4 171.7 L341.8 169.5 L342.2 167.3 L342.6 165.1 L343.0 162.9 L343.4 160.9 L343.8 159.0 L344.1 157.2 L344.4 155.5 L344.8 153.8 L345.1 152.2 L345.5 150.5 L345.9 148.9 L346.3 147.3 L346.7 145.8 L347.1 144.2 L347.5 142.7 L348.0 141.0 L348.5 139.2 L349.0 137.4 L349.5 135.5 L350.0 133.6 L350.5 131.8 L351.0 130.0 L351.5 128.3 L351.9 126.6 L352.4 125.0 L352.8 123.4 L353.3 121.7 L353.9 120.0 L354.5 118.2 L355.1 116.3 L355.8 114.4 L356.5 112.6 L357.2 110.7 L358.0 109.0 L358.8 107.4 L359.6 105.8 L360.4 104.3 L361.4 102.8 L362.4 101.4 L363.5 100.0 L364.8 98.6 L366.2 97.1 L367.7 95.7 L369.3 94.4 L370.9 93.3 L372.4 92.4 L373.9 91.8 L375.4 91.4 L376.8 91.1 L378.3 91.0 L379.8 91.0 L381.3 91.1 L382.8 91.2 L384.3 91.4 L385.8 91.7 L387.2 92.1 L388.7 92.6 L390.2 93.3 L391.7 94.1 L393.2 95.1 L394.8 96.2 L396.3 97.5 L397.7 98.8 L399.1 100.4 L400.4 102.1 L401.7 104.1 L402.9 106.1 L404.0 108.3 L405.2 110.6 L406.3 112.9 L407.4 115.2 L408.4 117.6 L409.4 120.0 L410.4 122.5 L411.4 125.2 L412.4 128.2 L413.5 131.4 L414.6 134.8 L415.7 138.4 L416.9 142.2 L418.0 146.0 L419.0 150.0 L420.0 154.1 L421.0 158.5 L421.9 163.0 L422.8 167.5 L423.7 172.0 L424.5 176.3 L425.3 180.6 L426.1 185.0 L426.8 189.3 L427.5 193.4 L428.2 197.2 L428.8 200.4 L429.4 203.2 L429.8 205.8 L430.3 208.0 L430.7 209.8 L431.2 210.9 L431.7 211.3 L432.2 210.9 L432.8 209.8 L433.4 208.0 L434.0 205.8 L434.7 203.2 L435.4 200.4 L436.2 197.1 L437.1 193.3 L438.0 189.0 L438.9 184.7 L439.9 180.3 L440.9 176.3 L441.9 172.4 L443.0 168.6 L444.1 164.8 L445.2 161.1 L446.3 157.6 L447.4 154.4 L448.5 151.4 L449.6 148.6 L450.7 146.1 L451.8 143.6 L452.9 141.3 L454.0 139.1 L455.1 137.0 L456.1 135.0 L457.2 133.2 L458.2 131.4 L459.4 129.8 L460.6 128.2 L461.9 126.7 L463.2 125.3 L464.5 123.9 L466.0 122.7 L467.6 121.6 L469.3 120.5 L471.3 119.5 L473.5 118.6 L475.8 117.8 L478.1 117.1 L480.4 116.5 L482.5 116.1 L484.5 115.9 L486.5 115.9 L488.4 116.0 L490.2 116.3 L491.9 116.5 L493.4 116.8 L494.8 117.1 L495.9 117.4 L497.0 117.7 L498.0 118.1 L499.0 118.6 L500.0 119.0 L501.0 119.5 L502.0 120.0 L502.9 120.5 L503.9 121.1 L504.8 121.7 L505.8 122.3 L506.8 123.0 L507.8 123.7 L508.8 124.4 L509.7 125.1 L510.7 125.9 L511.7 126.7 L512.7 127.5 L513.6 128.2 L514.6 129.0 L515.6 129.9 L516.5 130.8 L517.5 131.9 L518.5 133.1 L519.5 134.4 L520.5 135.8 L521.4 137.2 L522.4 138.8 L523.4 140.6 L524.4 142.5 L525.4 144.6 L526.4 146.7 L527.4 149.0 L528.3 151.4 L529.2 153.8 L530.0 156.3 L530.8 158.8 L531.5 161.5 L532.2 164.2 L532.9 167.0 L533.6 170.0 L534.3 173.0 L534.9 176.2 L535.6 179.4 L536.2 182.8 L536.8 186.3 L537.5 190.0 L538.2 193.9 L538.9 197.8 L539.6 202.0 L540.2 206.3 L540.9 210.9 L541.6 215.7 L542.3 221.0 L543.0 226.7 L543.7 232.6 L544.3 238.6 L545.0 244.4 L545.5 250.0 L546.0 255.3 L546.4 260.6 L546.7 265.7 L547.0 270.7 L547.3 275.5 L547.6 280.0 L547.9 284.7 L548.1 289.7 L548.3 294.5 L548.5 298.6 L548.7 301.4 L548.9 302.5 L549.1 301.4 L549.3 298.6 L549.5 294.5 L549.8 289.7 L550.0 284.7 L550.3 280.0 L550.6 275.6 L550.9 271.1 L551.2 266.4 L551.6 261.4 L552.0 256.0 L552.5 250.0 L553.1 243.2 L553.8 235.6 L554.6 227.5 L555.4 219.4 L556.1 211.7 L556.9 204.7 L557.6 198.4 L558.3 192.4 L559.0 186.8 L559.8 181.6 L560.5 176.6 L561.3 171.9 L562.1 167.6 L562.9 163.6 L563.8 160.0 L564.7 156.6 L565.7 153.3 L566.8 150.0 L568.1 146.8 L569.5 143.6 L571.0 140.6 L572.6 137.8 L574.1 135.1 L575.6 132.6 L577.1 130.3 L578.5 128.3 L580.0 126.4 L581.4 124.6 L582.8 123.0 L584.3 121.6 L585.8 120.3 L587.3 119.2 L588.8 118.3 L590.3 117.4 L591.8 116.7 L593.1 116.1 L594.3 115.6 L595.3 115.2 L596.2 114.8 L597.2 114.6 L598.3 114.6 L599.6 114.6 L601.2 114.7 L602.9 114.9 L604.8 115.1 L606.8 115.6 L608.7 116.2 L610.6 117.2 L612.4 118.4 L614.2 119.9 L616.1 121.6 L617.9 123.6 L619.7 125.8 L621.5 128.2 L623.4 131.0 L625.2 134.1 L627.1 137.5 L629.0 141.0 L630.8 144.5 L632.5 147.9 L634.1 151.3 L635.6 154.8 L637.1 158.3 L638.5 161.7 L639.9 164.8 L641.2 167.6 L642.4 170.0 L643.6 172.1 L644.8 174.0 L645.8 175.7 L646.9 177.2 L647.8 178.5 L648.6 179.7 L649.3 180.7 L650.0 181.6 L650.7 182.2 L651.4 182.5 L652.2 182.5 L653.2 182.1 L654.2 181.4 L655.4 180.5 L656.5 179.3 L657.7 177.9 L658.8 176.3 L659.9 174.5 L660.9 172.5 L662.0 170.3 L663.0 168.0 L664.1 165.6 L665.3 163.2 L666.6 160.6 L668.1 157.7 L669.6 154.7 L671.0 151.9 L672.1 149.6 L673.0 147.9" stroke="#0000ff" stroke-width="1.9" fill="none" stroke-linejoin="round"/>
</g>
<path d="M178.3 60.9L193.3 60.9L185.8 72.9Z" fill="#0000ff" stroke="#0000ff" stroke-width="1.3"/>
<path d="M311.8 109.0L326.8 109.0L319.3 121.0Z" fill="#0000ff" stroke="#0000ff" stroke-width="1.3"/>
<path d="M444.3 136.8L459.3 136.8L451.8 148.8Z" fill="#0000ff" stroke="#0000ff" stroke-width="1.3"/>
<path d="M576.8 116.0L591.8 116.0L584.3 128.0Z" fill="#0000ff" stroke="#0000ff" stroke-width="1.3"/>
<path d="M164.0 46.6L179.0 46.6L171.5 58.6Z" fill="none" stroke="#0000ff" stroke-width="1.3"/>
<path d="M328.9 201.0L343.9 201.0L336.4 213.0Z" fill="none" stroke="#0000ff" stroke-width="1.3"/>
<path d="M496.0 114.9L511.0 114.9L503.5 126.9Z" fill="none" stroke="#0000ff" stroke-width="1.3"/>
<path d="M659.1 126.7L674.1 126.7L666.6 138.7Z" fill="none" stroke="#0000ff" stroke-width="1.3"/>
<path d="M187.7 74.0L189.5 79.5L195.3 79.5L190.6 82.9L192.4 88.5L187.7 85.0L183.0 88.5L184.8 82.9L180.1 79.5L185.9 79.5Z" fill="#ff00ff" stroke="#ff00ff" stroke-width="1.3" stroke-linejoin="miter"/>
<path d="M321.2 120.4L323.0 125.9L328.8 125.9L324.1 129.3L325.9 134.9L321.2 131.4L316.5 134.9L318.3 129.3L313.6 125.9L319.4 125.9Z" fill="#ff00ff" stroke="#ff00ff" stroke-width="1.3" stroke-linejoin="miter"/>
<path d="M452.6 196.6L454.4 202.1L460.2 202.1L455.5 205.5L457.3 211.1L452.6 207.6L447.9 211.1L449.7 205.5L445.0 202.1L450.8 202.1Z" fill="#ff00ff" stroke="#ff00ff" stroke-width="1.3" stroke-linejoin="miter"/>
<path d="M583.1 176.9L584.9 182.4L590.7 182.4L586.0 185.8L587.8 191.4L583.1 187.9L578.4 191.4L580.2 185.8L575.5 182.4L581.3 182.4Z" fill="#ff00ff" stroke="#ff00ff" stroke-width="1.3" stroke-linejoin="miter"/>
<path d="M211.0 88.0L212.8 93.5L218.6 93.5L213.9 96.9L215.7 102.5L211.0 99.0L206.3 102.5L208.1 96.9L203.4 93.5L209.2 93.5Z" fill="none" stroke="#ff00ff" stroke-width="1.3" stroke-linejoin="miter"/>
<path d="M390.0 153.5L391.8 159.0L397.6 159.0L392.9 162.4L394.7 168.0L390.0 164.5L385.3 168.0L387.1 162.4L382.4 159.0L388.2 159.0Z" fill="none" stroke="#ff00ff" stroke-width="1.3" stroke-linejoin="miter"/>
<path d="M566.7 172.2L568.5 177.7L574.3 177.7L569.6 181.1L571.4 186.7L566.7 183.2L562.0 186.7L563.8 181.1L559.1 177.7L564.9 177.7Z" fill="none" stroke="#ff00ff" stroke-width="1.3" stroke-linejoin="miter"/>
<rect x="93.9" y="247.6" width="12" height="12" fill="#000000" stroke="#000000" stroke-width="1.3"/>
<rect x="193.1" y="186.2" width="12" height="12" fill="#000000" stroke="#000000" stroke-width="1.3"/>
<rect x="293.6" y="147.7" width="12" height="12" fill="#000000" stroke="#000000" stroke-width="1.3"/>
<rect x="392.1" y="151.3" width="12" height="12" fill="#000000" stroke="#000000" stroke-width="1.3"/>
<rect x="492.1" y="177.5" width="12" height="12" fill="#000000" stroke="#000000" stroke-width="1.3"/>
<rect x="591.1" y="216.2" width="12" height="12" fill="#000000" stroke="#000000" stroke-width="1.3"/>
<rect x="187.3" y="248.6" width="12" height="12" fill="none" stroke="#000000" stroke-width="1.3"/>
<rect x="286.6" y="141.8" width="12" height="12" fill="none" stroke="#000000" stroke-width="1.3"/>
<rect x="383.8" y="150.9" width="12" height="12" fill="none" stroke="#000000" stroke-width="1.3"/>
<rect x="483.9" y="176.4" width="12" height="12" fill="none" stroke="#000000" stroke-width="1.3"/>
<rect x="585.3" y="208.1" width="12" height="12" fill="none" stroke="#000000" stroke-width="1.3"/>
<path d="M92.5 450.1L107.5 450.1L100.0 438.1Z" fill="#7e2f8e" stroke="#7e2f8e" stroke-width="1.3"/>
<path d="M192.7 367.1L207.7 367.1L200.2 355.1Z" fill="#7e2f8e" stroke="#7e2f8e" stroke-width="1.3"/>
<path d="M292.0 351.3L307.0 351.3L299.5 339.3Z" fill="#7e2f8e" stroke="#7e2f8e" stroke-width="1.3"/>
<path d="M391.5 399.5L406.5 399.5L399.0 387.5Z" fill="#7e2f8e" stroke="#7e2f8e" stroke-width="1.3"/>
<path d="M490.8 360.9L505.8 360.9L498.3 348.9Z" fill="#7e2f8e" stroke="#7e2f8e" stroke-width="1.3"/>
<path d="M590.6 405.1L605.6 405.1L598.1 393.1Z" fill="#7e2f8e" stroke="#7e2f8e" stroke-width="1.3"/>
<path d="M173.0 439.1L188.0 439.1L180.5 427.1Z" fill="none" stroke="#7e2f8e" stroke-width="1.3"/>
<path d="M282.1 327.2L297.1 327.2L289.6 315.2Z" fill="none" stroke="#7e2f8e" stroke-width="1.3"/>
<path d="M391.5 348.0L406.5 348.0L399.0 336.0Z" fill="none" stroke="#7e2f8e" stroke-width="1.3"/>
<path d="M501.2 352.8L516.2 352.8L508.7 340.8Z" fill="none" stroke="#7e2f8e" stroke-width="1.3"/>
<path d="M610.1 377.7L625.1 377.7L617.6 365.7Z" fill="none" stroke="#7e2f8e" stroke-width="1.3"/>
<circle cx="100.1" cy="450.0" r="6.3" fill="#d95319" stroke="#d95319" stroke-width="1.3"/>
<circle cx="199.1" cy="385.2" r="6.3" fill="#d95319" stroke="#d95319" stroke-width="1.3"/>
<circle cx="299.5" cy="359.9" r="6.3" fill="#d95319" stroke="#d95319" stroke-width="1.3"/>
<circle cx="397.9" cy="359.9" r="6.3" fill="#d95319" stroke="#d95319" stroke-width="1.3"/>
<circle cx="498.3" cy="386.6" r="6.3" fill="#d95319" stroke="#d95319" stroke-width="1.3"/>
<circle cx="597.4" cy="363.4" r="6.3" fill="#d95319" stroke="#d95319" stroke-width="1.3"/>
<circle cx="217.8" cy="369.8" r="6.3" fill="none" stroke="#d95319" stroke-width="1.3"/>
<circle cx="339.6" cy="359.9" r="6.3" fill="none" stroke="#d95319" stroke-width="1.3"/>
<circle cx="458.1" cy="312.8" r="6.3" fill="none" stroke="#d95319" stroke-width="1.3"/>
<circle cx="577.7" cy="337.1" r="6.3" fill="none" stroke="#d95319" stroke-width="1.3"/>
<path d="M110.4 452.1L116.5 460.6L110.4 469.1L104.3 460.6Z" fill="#77ac30" stroke="#77ac30" stroke-width="1.3"/>
<path d="M219.4 369.2L225.5 377.7L219.4 386.2L213.3 377.7Z" fill="#77ac30" stroke="#77ac30" stroke-width="1.3"/>
<path d="M329.0 351.4L335.1 359.9L329.0 368.4L322.9 359.9Z" fill="#77ac30" stroke="#77ac30" stroke-width="1.3"/>
<path d="M438.4 374.9L444.5 383.4L438.4 391.9L432.3 383.4Z" fill="#77ac30" stroke="#77ac30" stroke-width="1.3"/>
<path d="M548.2 349.4L554.3 357.9L548.2 366.4L542.1 357.9Z" fill="#77ac30" stroke="#77ac30" stroke-width="1.3"/>
<path d="M657.7 412.0L663.8 420.5L657.7 429.0L651.6 420.5Z" fill="#77ac30" stroke="#77ac30" stroke-width="1.3"/>
<path d="M259.0 345.9L265.1 354.4L259.0 362.9L252.9 354.4Z" fill="none" stroke="#77ac30" stroke-width="1.3"/>
<path d="M388.0 351.4L394.1 359.9L388.0 368.4L381.9 359.9Z" fill="none" stroke="#77ac30" stroke-width="1.3"/>
<path d="M516.7 355.6L522.8 364.1L516.7 372.6L510.6 364.1Z" fill="none" stroke="#77ac30" stroke-width="1.3"/>
<path d="M647.8 359.2L653.9 367.7L647.8 376.2L641.7 367.7Z" fill="none" stroke="#77ac30" stroke-width="1.3"/>
<path d="M73.5 492.6H670.7" stroke="#d2d2d2" stroke-width="1.2" fill="none"/>
<path d="M73.5 38.0H670.7" stroke="#a4a4a4" stroke-width="1.4" fill="none"/>
<path d="M73.5 38.0V492.6M670.7 38.0V492.6" stroke="#7a7a7a" stroke-width="1.1" fill="none"/>
<path d="M139.85 492.6v-6.3M139.85 38.0v6.3M206.20 492.6v-6.3M206.20 38.0v6.3M272.55 492.6v-6.3M272.55 38.0v6.3M338.90 492.6v-6.3M338.90 38.0v6.3M405.25 492.6v-6.3M405.25 38.0v6.3M471.60 492.6v-6.3M471.60 38.0v6.3M537.95 492.6v-6.3M537.95 38.0v6.3M604.30 492.6v-6.3M604.30 38.0v6.3M73.5 44.10h6.3M670.7 44.10h-6.3M73.5 79.05h6.3M670.7 79.05h-6.3M73.5 114.00h6.3M670.7 114.00h-6.3M73.5 148.95h6.3M670.7 148.95h-6.3M73.5 183.90h6.3M670.7 183.90h-6.3M73.5 218.85h6.3M670.7 218.85h-6.3M73.5 253.80h6.3M670.7 253.80h-6.3M73.5 288.75h6.3M670.7 288.75h-6.3M73.5 323.70h6.3M670.7 323.70h-6.3M73.5 358.65h6.3M670.7 358.65h-6.3M73.5 393.60h6.3M670.7 393.60h-6.3M73.5 428.55h6.3M670.7 428.55h-6.3M73.5 463.50h6.3M670.7 463.50h-6.3" stroke="#6a6a6a" stroke-width="1.1" fill="none"/>
<text x="139.85" y="522.8" text-anchor="middle" class="tl">22</text>
<text x="206.20" y="522.8" text-anchor="middle" class="tl">23</text>
<text x="272.55" y="522.8" text-anchor="middle" class="tl">24</text>
<text x="338.90" y="522.8" text-anchor="middle" class="tl">25</text>
<text x="405.25" y="522.8" text-anchor="middle" class="tl">26</text>
<text x="471.60" y="522.8" text-anchor="middle" class="tl">27</text>
<text x="537.95" y="522.8" text-anchor="middle" class="tl">28</text>
<text x="604.30" y="522.8" text-anchor="middle" class="tl">29</text>
<text x="670.65" y="522.8" text-anchor="middle" class="tl">30</text>
<text x="68" y="53.70" text-anchor="end" class="tl">0</text>
<text x="68" y="88.65" text-anchor="end" class="tl">-5</text>
<text x="68" y="123.60" text-anchor="end" class="tl">-10</text>
<text x="68" y="158.55" text-anchor="end" class="tl">-15</text>
<text x="68" y="193.50" text-anchor="end" class="tl">-20</text>
<text x="68" y="228.45" text-anchor="end" class="tl">-25</text>
<text x="68" y="263.40" text-anchor="end" class="tl">-30</text>
<text x="68" y="298.35" text-anchor="end" class="tl">-35</text>
<text x="68" y="333.30" text-anchor="end" class="tl">-40</text>
<text x="68" y="368.25" text-anchor="end" class="tl">-45</text>
<text x="68" y="403.20" text-anchor="end" class="tl">-50</text>
<text x="68" y="438.15" text-anchor="end" class="tl">-55</text>
<text x="68" y="473.10" text-anchor="end" class="tl">-60</text>
<text x="372.6" y="551.8" text-anchor="middle" class="al" style="font-size:26.6px">Frequency (GHz)</text>
<text transform="translate(21.5,244) rotate(-90)" text-anchor="middle" class="al" style="font-size:25.6px">S-parameters (dB)</text>
<rect x="351.8" y="3.7" width="318.8" height="84.3" fill="#fff" stroke="#c6c6c6" stroke-width="1.7"/>
<text x="432" y="27.6" text-anchor="middle" class="lb">90°-bend</text>
<text x="431.5" y="51.8" text-anchor="middle" class="lb">Measurement</text>
<text x="428.7" y="76.7" text-anchor="middle" class="lb">Simulation</text>
<text transform="translate(520.6,30) scale(0.93,1)" class="ls">S</text>
<text x="534.2" y="33.2" class="lsub">11</text>
<text transform="translate(575.3,30) scale(0.93,1)" class="ls">S</text>
<text x="588.9" y="33.2" class="lsub">21</text>
<text transform="translate(627.8,30) scale(0.93,1)" class="ls">S</text>
<text x="641.4" y="33.2" class="lsub">31</text>
<path d="M514.6 46.6h5.5M525.6 46.6h5.5M545.1 46.6h5.5" stroke="#ff00ff" stroke-width="1.7"/>
<path d="M533.6 38.6L535.4 44.1L541.2 44.1L536.5 47.5L538.3 53.1L533.6 49.6L528.9 53.1L530.7 47.5L526.0 44.1L531.8 44.1Z" fill="none" stroke="#ff00ff" stroke-width="1.3" stroke-linejoin="miter"/>
<path d="M514.3000000000001 70.8H552.9" stroke="#ff00ff" stroke-width="1.7"/>
<path d="M533.6 62.8L535.4 68.3L541.2 68.3L536.5 71.7L538.3 77.3L533.6 73.8L528.9 77.3L530.7 71.7L526.0 68.3L531.8 68.3Z" fill="#ff00ff" stroke="#ff00ff" stroke-width="1.3" stroke-linejoin="miter"/>
<path d="M568.5 46.6h5.5M579.5 46.6h5.5M599.0 46.6h5.5" stroke="#000000" stroke-width="1.7"/>
<rect x="581.5" y="40.6" width="12" height="12" fill="none" stroke="#000000" stroke-width="1.3"/>
<path d="M568.2 70.8H606.8" stroke="#000000" stroke-width="1.7"/>
<rect x="581.5" y="64.8" width="12" height="12" fill="#000000" stroke="#000000" stroke-width="1.3"/>
<path d="M621.6 46.6h5.5M632.6 46.6h5.5M652.1 46.6h5.5" stroke="#7e2f8e" stroke-width="1.7"/>
<path d="M632.1 53.0L649.1 53.0L640.6 39.4Z" fill="none" stroke="#7e2f8e" stroke-width="1.3"/>
<path d="M621.3000000000001 70.8H659.9" stroke="#7e2f8e" stroke-width="1.7"/>
<path d="M632.1 77.2L649.1 77.2L640.6 63.6Z" fill="#7e2f8e" stroke="#7e2f8e" stroke-width="1.3"/>
<rect x="313.1" y="415.8" width="304.3" height="76.8" fill="#fff" stroke="#c6c6c6" stroke-width="1.7"/>
<text x="320.4" y="435.3" class="lb">Block pathway</text>
<text x="320.4" y="460.4" class="lb">Measurement</text>
<text x="338.8" y="483.8" class="lb">Simulation</text>
<text transform="translate(462.9,437.5) scale(0.93,0.95)" class="ls">S</text>
<text x="476.9" y="441.6" class="lsub">11</text>
<text transform="translate(516.8,437.5) scale(0.93,0.95)" class="ls">S</text>
<text x="530.8" y="441.6" class="lsub">21</text>
<text transform="translate(571.7,437.5) scale(0.93,0.95)" class="ls">S</text>
<text x="585.7" y="441.6" class="lsub">31</text>
<path d="M458.6 456.6h5.5M469.1 456.6h5.5M489.1 456.6h5.5" stroke="#0000ff" stroke-width="1.7"/>
<path d="M468.6 450.2L485.6 450.2L477.1 463.8Z" fill="none" stroke="#0000ff" stroke-width="1.3"/>
<path d="M458.6 480.6H495.6" stroke="#0000ff" stroke-width="1.7"/>
<path d="M468.6 474.2L485.6 474.2L477.1 487.8Z" fill="#0000ff" stroke="#0000ff" stroke-width="1.3"/>
<path d="M510.9 456.6h5.5M521.4 456.6h5.5M541.4 456.6h5.5" stroke="#d95319" stroke-width="1.7"/>
<circle cx="529.4" cy="456.6" r="6.3" fill="none" stroke="#d95319" stroke-width="1.3"/>
<path d="M510.9 480.6H547.9" stroke="#d95319" stroke-width="1.7"/>
<circle cx="529.4" cy="480.6" r="6.3" fill="#d95319" stroke="#d95319" stroke-width="1.3"/>
<path d="M565.0 456.6h5.5M575.5 456.6h5.5M595.5 456.6h5.5" stroke="#77ac30" stroke-width="1.7"/>
<path d="M583.5 448.1L589.6 456.6L583.5 465.1L577.4 456.6Z" fill="none" stroke="#77ac30" stroke-width="1.3"/>
<path d="M565.0 480.6H602.0" stroke="#77ac30" stroke-width="1.7"/>
<path d="M583.5 472.1L589.6 480.6L583.5 489.1L577.4 480.6Z" fill="#77ac30" stroke="#77ac30" stroke-width="1.3"/>
<path d="M338.90 492.6v-6.1M405.25 492.6v-6.1M471.60 492.6v-6.1M537.95 492.6v-6.1" stroke="#8a8a8a" stroke-width="1.1" fill="none"/>
<text x="342.2" y="508.2" text-anchor="middle" class="bs">s</text>
</svg>
</body></html>
